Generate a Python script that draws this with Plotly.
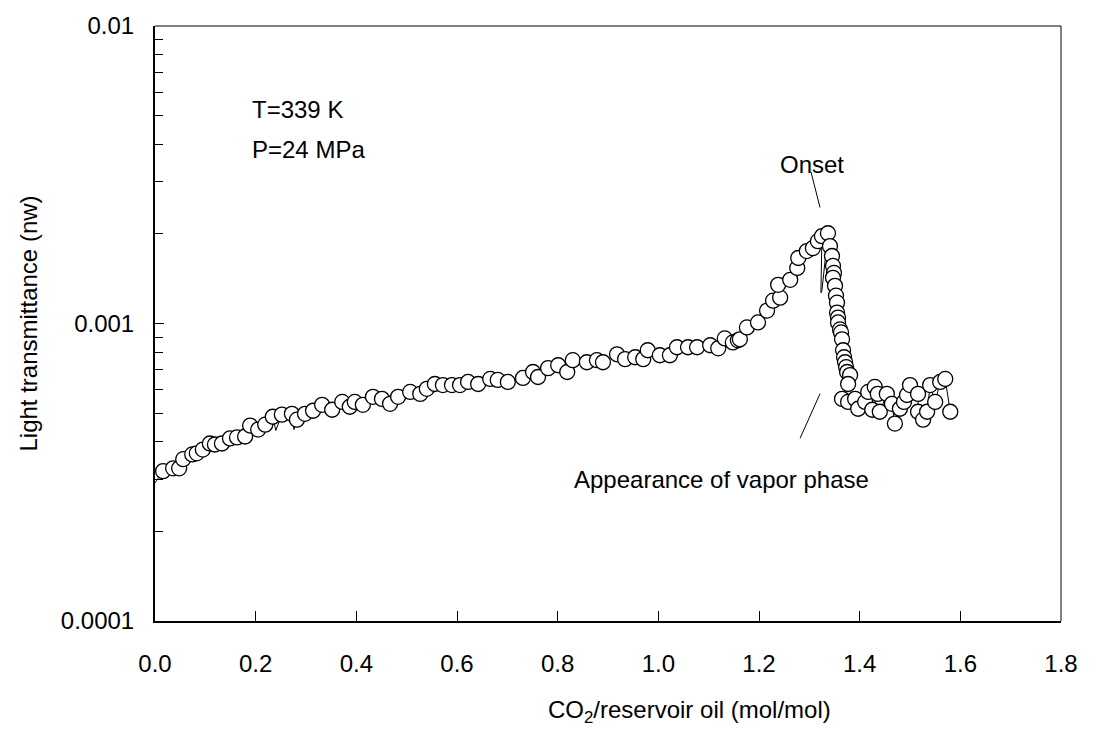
import plotly.graph_objects as go

# CO2 / reservoir oil (mol/mol)
ratio = [0.016, 0.036, 0.048, 0.056, 0.074, 0.083, 0.095, 0.109, 0.119, 0.133,
         0.149, 0.163, 0.179, 0.189, 0.205, 0.219, 0.234, 0.252, 0.272, 0.282,
         0.298, 0.314, 0.332, 0.352, 0.372, 0.387, 0.397, 0.413, 0.433, 0.451,
         0.467, 0.483, 0.507, 0.527, 0.540, 0.556, 0.572, 0.590, 0.606, 0.622,
         0.642, 0.666, 0.681, 0.701, 0.731, 0.751, 0.761, 0.781, 0.801, 0.819,
         0.830, 0.858, 0.878, 0.890, 0.918, 0.934, 0.954, 0.970, 0.979, 1.003,
         1.023, 1.037, 1.059, 1.077, 1.103, 1.119, 1.132, 1.148, 1.158, 1.162,
         1.176, 1.198, 1.216, 1.228, 1.242, 1.238, 1.262, 1.276, 1.278, 1.295,
         1.307, 1.317, 1.325, 1.337, 1.341, 1.345, 1.347, 1.349, 1.347, 1.351,
         1.353, 1.355, 1.355, 1.357, 1.357, 1.361, 1.363, 1.365, 1.367, 1.369,
         1.371, 1.373, 1.375, 1.381, 1.377, 1.365, 1.377, 1.391, 1.397, 1.411,
         1.417, 1.430, 1.436, 1.425, 1.440, 1.454, 1.464, 1.470, 1.480, 1.488,
         1.494, 1.500, 1.516, 1.516, 1.526, 1.534, 1.540, 1.550, 1.560, 1.570,
         1.580]

# Light transmittance (units of 1e-4)
trans_e4 = [3.19, 3.26, 3.26, 3.50, 3.63, 3.66, 3.77, 3.95, 3.92, 3.95,
            4.11, 4.14, 4.17, 4.54, 4.40, 4.57, 4.86, 4.94, 4.97, 4.75,
            4.97, 5.09, 5.33, 5.13, 5.45, 5.25, 5.45, 5.33, 5.67, 5.58,
            5.37, 5.67, 5.89, 5.80, 6.03, 6.26, 6.21, 6.21, 6.21, 6.36,
            6.26, 6.51, 6.46, 6.36, 6.56, 6.87, 6.61, 7.08, 7.24, 6.87,
            7.53, 7.41, 7.53, 7.41, 7.88, 7.59, 7.70, 7.59, 8.13, 7.82,
            7.82, 8.32, 8.32, 8.32, 8.45, 8.25, 8.91, 8.64, 8.78, 8.85,
            9.70, 10.08, 11.05, 11.93, 12.21, 13.49, 14.02, 15.37, 16.60, 17.52,
            17.93, 18.91, 19.65, 20.11, 18.20, 16.86, 15.61, 14.79, 14.24, 13.39,
            12.40, 11.75, 10.88, 10.47, 10.08, 9.55, 9.33, 8.85, 8.13, 7.70,
            7.41, 7.13, 6.87, 6.71, 6.26, 5.58, 5.45, 5.58, 5.17, 5.45,
            5.89, 6.12, 5.80, 5.13, 5.05, 5.80, 5.37, 4.61, 5.17, 5.45,
            5.75, 6.21, 5.80, 5.05, 4.75, 5.05, 6.21, 5.45, 6.36, 6.51,
            5.05]

# extra points of the connecting curve (no marker): insert after given index
line_extra_after = [-1, 16, 18, 82, 82]
line_extra_x = [0.000, 0.240, 0.276, 1.323, 1.325]
line_extra_y_e4 = [2.91, 4.37, 4.40, 12.69, 12.88]

x_ticks = [0.0, 0.2, 0.4, 0.6, 0.8, 1.0, 1.2, 1.4, 1.6, 1.8]
x_ticktext = ["0.0", "0.2", "0.4", "0.6", "0.8", "1.0", "1.2", "1.4", "1.6", "1.8"]
y_ticks = [1e-4, 1e-3, 1e-2]
y_ticktext = ["0.0001", "0.001", "0.01"]

trans = [v * 1e-4 for v in trans_e4]

# build the line series
line_x, line_y = [], []
extras = list(zip(line_extra_after, line_extra_x, line_extra_y_e4))
for a, ex, ey in extras:
    if a == -1:
        line_x.append(ex); line_y.append(ey * 1e-4)
for i, (xv, yv) in enumerate(zip(ratio, trans)):
    line_x.append(xv); line_y.append(yv)
    for a, ex, ey in extras:
        if a == i:
            line_x.append(ex); line_y.append(ey * 1e-4)

FONT = "Liberation Sans, Arial, sans-serif"
FS = 24

fig = go.Figure()
fig.add_trace(go.Scatter(x=line_x, y=line_y, mode="lines",
                         line=dict(color="black", width=1), hoverinfo="skip",
                         showlegend=False))
fig.add_trace(go.Scatter(x=ratio, y=trans, mode="markers",
                         marker=dict(symbol="circle", size=15, color="white",
                                     line=dict(color="black", width=1.3)),
                         showlegend=False, cliponaxis=False))

minor_vals = [k * 10 ** e for e in (-4, -3) for k in range(2, 10)]

fig.update_layout(
    width=1097, height=733,
    margin=dict(l=155, r=36, t=21, b=112),
    paper_bgcolor="white", plot_bgcolor="white",
    font=dict(family=FONT, size=FS, color="black"),
    xaxis=dict(range=[0, 1.8], tickmode="array", tickvals=x_ticks, ticktext=x_ticktext,
               ticks="inside", ticklen=10, tickwidth=1, tickcolor="black",
               showline=True, linewidth=2, linecolor="black",
               showgrid=False, zeroline=False, ticklabelstandoff=20,
               tickfont=dict(size=FS)),
    yaxis=dict(type="log", range=[-4, -2], tickmode="array", tickvals=y_ticks,
               ticktext=y_ticktext, ticks="inside", ticklen=9, tickwidth=1,
               tickcolor="black", showline=True, linewidth=2, linecolor="black",
               showgrid=False, zeroline=False, ticklabelstandoff=14,
               tickfont=dict(size=FS),
               minor=dict(tickvals=minor_vals, ticks="inside", ticklen=8,
                          tickcolor="black", tickwidth=1, showgrid=False),
               title=dict(text="Light transmittance (nw)", standoff=16,
                          font=dict(size=FS))),
    shapes=[
        dict(type="line", xref="paper", yref="paper", x0=0, x1=1, y0=1, y1=1,
             line=dict(color="black", width=1)),
        dict(type="line", xref="paper", yref="paper", x0=1, x1=1, y0=0, y1=1,
             line=dict(color="black", width=1)),
        dict(type="line", xref="paper", yref="paper", x0=0.724, x1=0.734, y0=0.755, y1=0.695,
             line=dict(color="black", width=1)),
        dict(type="line", xref="paper", yref="paper", x0=0.712, x1=0.734, y0=0.307, y1=0.382,
             line=dict(color="black", width=1)),
    ],
    annotations=[
        dict(text="CO<sub>2</sub>/reservoir oil (mol/mol)", xref="paper", yref="paper",
             x=0.59, y=-0.152, xanchor="center", yanchor="middle", showarrow=False,
             font=dict(size=FS)),
        dict(text="T=339 K", xref="paper", yref="paper", x=0.105, y=0.86,
             xanchor="left", yanchor="middle", showarrow=False, font=dict(size=FS)),
        dict(text="P=24 MPa", xref="paper", yref="paper", x=0.105, y=0.793,
             xanchor="left", yanchor="middle", showarrow=False, font=dict(size=FS)),
        dict(text="Onset", xref="paper", yref="paper", x=0.725, y=0.768,
             xanchor="center", yanchor="middle", showarrow=False, font=dict(size=FS)),
        dict(text="Appearance of vapor phase", xref="paper", yref="paper", x=0.625, y=0.238,
             xanchor="center", yanchor="middle", showarrow=False, font=dict(size=FS)),
    ],
)

fig.write_html("out.html")
